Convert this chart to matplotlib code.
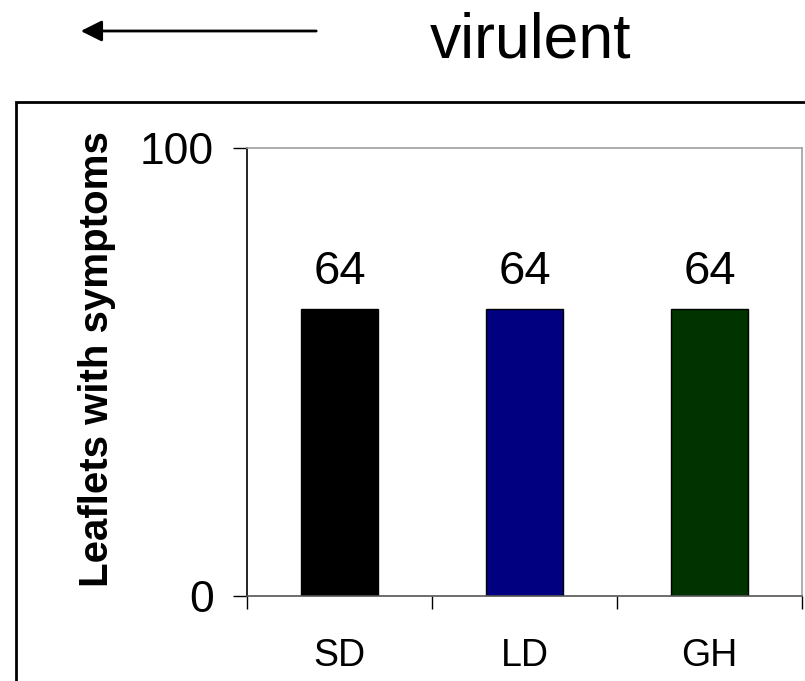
import matplotlib.pyplot as plt
from matplotlib.patches import Rectangle

plt.rcParams['font.family'] = ['Liberation Sans', 'DejaVu Sans']

# данные
categories = ['SD', 'LD', 'GH']
values = [64, 64, 64]
colors = ['#000000', '#000080', '#003300']

fig = plt.figure(figsize=(8.05, 6.81), dpi=100)
ax = fig.add_axes([0.3068, 0.1248, 0.6895, 0.6579])

x = range(len(categories))
ax.bar(x, values, width=0.42, color=colors, edgecolor='black', linewidth=1)

for xi, v in zip(x, values):
    ax.annotate(str(v), (xi, v), xytext=(0, 18), textcoords='offset points',
                ha='center', va='baseline', fontsize=34)

ax.set_xlim(-0.5, len(categories) - 0.5)
ax.set_ylim(0, 100)
ax.set_yticks([0, 100])
ax.set_yticklabels(['0', '100'], fontsize=32)
ax.tick_params(axis='y', direction='out', length=10, width=1, pad=14)

# категории подписаны по центру, засечки на границах
ax.set_xticks(list(x))
ax.set_xticklabels(categories, fontsize=27)
ax.set_xticks([i - 0.5 for i in range(len(categories) + 1)], minor=True)
ax.tick_params(axis='x', which='major', length=0, pad=30)
ax.tick_params(axis='x', which='minor', direction='out', length=9, width=1)

ax.spines['left'].set_color('black')
ax.spines['bottom'].set_color('#555555')
ax.spines['top'].set_color('#a0a0a0')
ax.spines['right'].set_color('#a0a0a0')
for s in ax.spines.values():
    s.set_linewidth(1.2)

fig.text(0.1205, 0.473, 'Leaflets with symptoms', rotation=90,
         ha='center', va='center', fontsize=29, fontweight='bold')

# внешняя рамка
frame = Rectangle((16 / 805, -0.1), 1.2, 0.1 + (681 - 102) / 681,
                  transform=fig.transFigure, fill=False, edgecolor='black',
                  linewidth=2)
fig.patches.append(frame)

ax_arrow = fig.add_axes([0, 0, 1, 1], facecolor='none')
ax_arrow.axis('off')
ax_arrow.annotate('', xy=(78 / 805, 1 - 31 / 681), xytext=(319 / 805, 1 - 31 / 681),
                  xycoords='figure fraction', textcoords='figure fraction',
                  arrowprops=dict(arrowstyle='-|>', color='black', lw=2,
                                  mutation_scale=32))

fig.text(531 / 805, 1 - 57 / 681, 'virulent', ha='center', va='baseline', fontsize=45)

fig.savefig('out.png', dpi=100)
